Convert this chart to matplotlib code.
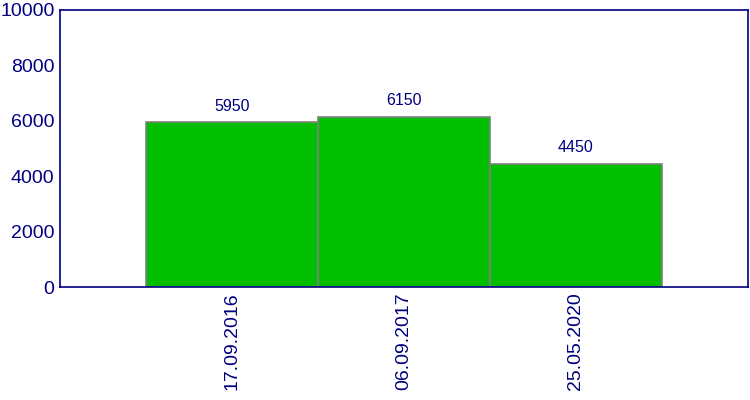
import matplotlib
matplotlib.use("Agg")
import matplotlib.pyplot as plt

# data
dates = ["17.09.2016", "06.09.2017", "25.05.2020"]
values = [5950, 6150, 4450]
yticks = [0, 2000, 4000, 6000, 8000, 10000]

navy = "#000080"
plt.rcParams['font.family'] = ['Liberation Sans', 'DejaVu Sans']

fig = plt.figure(figsize=(7.5, 4), dpi=100)
ax = fig.add_axes([0.08, 0.2825, 0.9173, 0.6925])

x = list(range(len(dates)))
ax.bar(x, values, width=1.0, color="#00BF00", edgecolor="#808080", linewidth=1.2)

for xi, v in zip(x, values):
    ax.annotate(str(v), (xi, v), xytext=(0, 6), textcoords="offset points",
                ha="center", va="bottom", color=navy, fontsize=11.5)

ax.set_xlim(-1.0, 3.0)
ax.set_ylim(0, 10000)
ax.set_yticks(yticks)
ax.set_yticklabels([str(t) for t in yticks])
ax.set_xticks(x)
ax.set_xticklabels(dates, rotation=90)
ax.tick_params(length=0, labelsize=14, labelcolor=navy, pad=4)
for s in ax.spines.values():
    s.set_color(navy)
    s.set_linewidth(1.2)

fig.savefig("out.png", dpi=100)
